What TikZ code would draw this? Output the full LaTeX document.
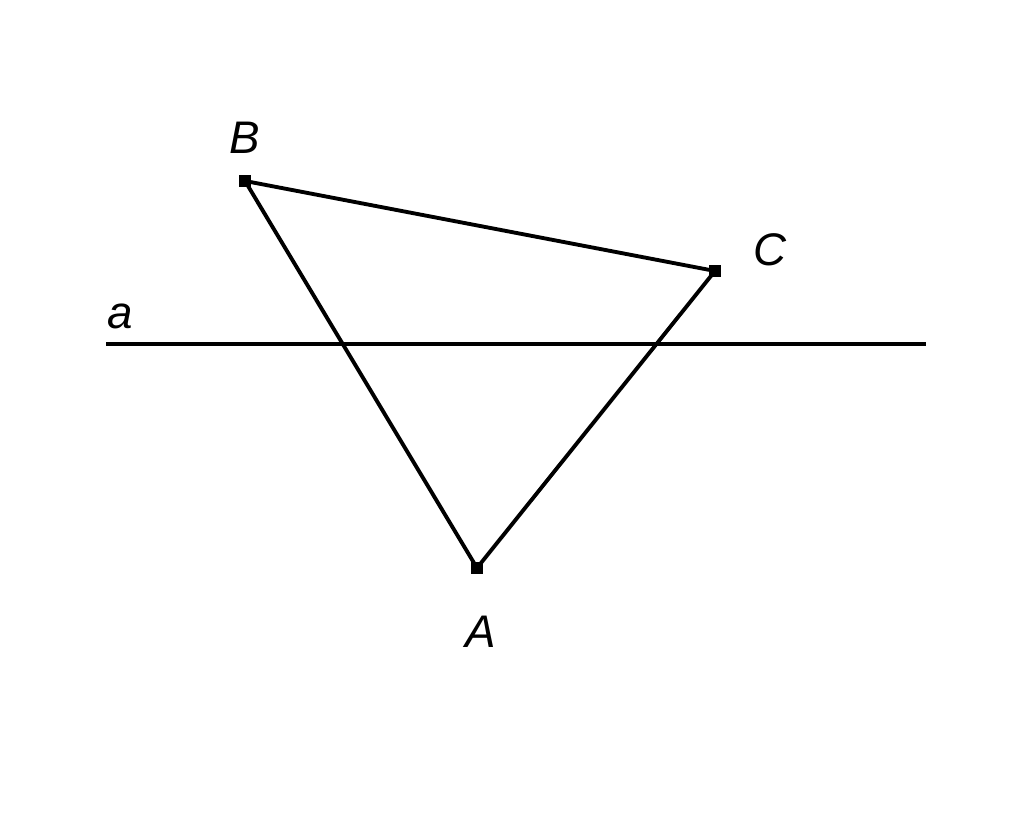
\documentclass[tikz,border=0pt]{standalone}
\usepackage{fontspec}
\setmainfont{Liberation Sans}
\begin{document}
\begin{tikzpicture}[
        vertex/.style = {rectangle, fill, inner sep=0pt, minimum size=0.12cm}, % вершины
        lbl/.style = {font=\fontsize{13}{15}\selectfont\itshape}, % подписи
        side/.style = {draw, line width=1.1pt},
    ]
    \useasboundingbox (0,0) rectangle (10.24,8.21);

    % вершины треугольника
    \node[vertex] (B) at (2.45,6.40) {};
    \node[vertex] (C) at (7.15,5.50) {};
    \node[vertex] (A) at (4.77,2.53) {};
    \node[lbl] (labB) at (2.45,6.83) {B};
    \node[lbl] (labC) at (7.70,5.71) {C};
    \node[lbl] (labA) at (4.81,1.89) {A};

    % прямая a
    \coordinate (a1) at (1.06,4.77);
    \coordinate (a2) at (9.26,4.77);
    \node[lbl] (laba) at (1.20,5.05) {a};

    \path[side] (a1) -- (a2);
    \path[side, line join=round] (B.center) -- (C.center) -- (A.center) -- cycle;
\end{tikzpicture}
\end{document}
